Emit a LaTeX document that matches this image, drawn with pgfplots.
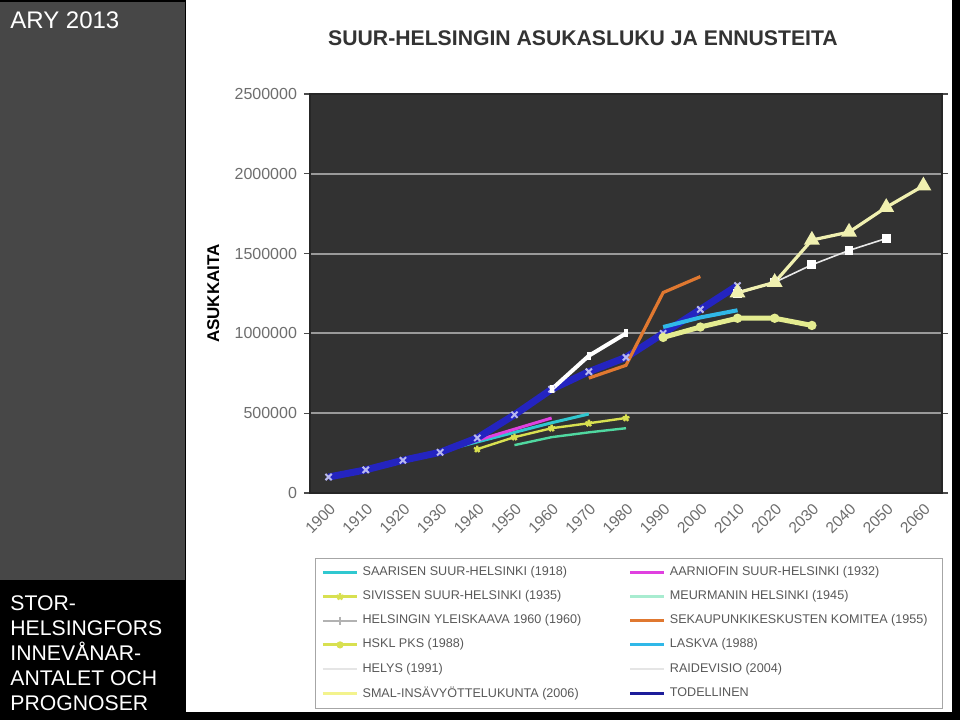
\documentclass[border=0pt]{standalone}
\usepackage{pgfplots}
\pgfplotsset{compat=1.18}
\usepackage{fontspec}
\setmainfont{Liberation Sans}
\definecolor{panel}{HTML}{474747}
\definecolor{plotbg}{HTML}{323232}
\definecolor{gridc}{HTML}{9A9A9A}
\definecolor{ticklab}{HTML}{6E6E6E}
\definecolor{navyL}{HTML}{2424C0}
\definecolor{lav}{HTML}{B8B8F0}
\definecolor{magentaL}{HTML}{E040E0}
\definecolor{saar}{HTML}{30C8D0}
\definecolor{sivis}{HTML}{D8E050}
\definecolor{mood}{HTML}{50D8A0}
\definecolor{orangeL}{HTML}{E07830}
\definecolor{hskl}{HTML}{E4EC90}
\definecolor{lask}{HTML}{30B8E8}
\definecolor{smal}{HTML}{F0F0B0}
\definecolor{helys}{HTML}{E8E8E8}
\begin{document}
\begin{tikzpicture}
\fill[black] (0pt,0pt) rectangle (480pt,360pt);
\fill[panel] (0pt,70pt) rectangle (92.5pt,359pt);
\fill[white] (93pt,4pt) rectangle (476pt,360pt);
\node[anchor=base west,inner sep=0pt,text=white,font=\fontsize{12}{14}\selectfont] at (5pt,346pt) {ARY 2013};
\node[anchor=base west,inner sep=0pt,text=white,font=\fontsize{10.6}{12}\selectfont] at (5pt,55pt) {STOR-};
\node[anchor=base west,inner sep=0pt,text=white,font=\fontsize{10.6}{12}\selectfont] at (5pt,42.5pt) {HELSINGFORS};
\node[anchor=base west,inner sep=0pt,text=white,font=\fontsize{10.6}{12}\selectfont] at (5pt,30pt) {INNEVÅNAR-};
\node[anchor=base west,inner sep=0pt,text=white,font=\fontsize{10.6}{12}\selectfont] at (5pt,17.5pt) {ANTALET OCH};
\node[anchor=base west,inner sep=0pt,text=white,font=\fontsize{10.6}{12}\selectfont] at (5pt,5pt) {PROGNOSER};
\node[anchor=base,inner sep=0pt,text=black!80,font=\bfseries\fontsize{10.6}{12}\selectfont] at (291.5pt,337.5pt) {SUUR-HELSINGIN ASUKASLUKU JA ENNUSTEITA};
\begin{axis}[
  at={(155pt,113.5pt)}, anchor=south west,
  scale only axis, width=316pt, height=199.5pt,
  xmin=-0.5, xmax=16.5, ymin=0, ymax=2500000,
  scaled y ticks=false,
  xtick={0,1,...,16},
  xticklabels={1900,1910,1920,1930,1940,1950,1960,1970,1980,1990,2000,2010,2020,2030,2040,2050,2060},
  ytick={0,500000,1000000,1500000,2000000,2500000},
  yticklabels={0,500000,1000000,1500000,2000000,2500000},
  xtick style={draw=none},
  ytick style={draw=black!70, line width=0.6pt},
  tick align=outside, major tick length=3pt,
  ymajorgrids, grid style={draw=gridc, line width=1pt},
  axis background/.style={fill=plotbg},
  axis line style={draw=black!85, line width=1pt},
  ticklabel style={text=ticklab, font=\fontsize{8}{9}\selectfont},
  xticklabel style={rotate=45, anchor=north east, inner sep=1pt, font=\fontsize{7.8}{9}\selectfont},
  ylabel={ASUKKAITA},
  every axis y label/.style={at={(axis description cs:-0.153,0.5)}, rotate=90, anchor=center, font=\bfseries\fontsize{8.5}{10}\selectfont, text=black},
  legend columns=2,
  legend cell align=left,
  legend style={at={(axis description cs:0.008,-0.163)}, anchor=north west, draw=black!35, fill=white, font=\fontsize{6.3}{7}\selectfont, text=black!65, row sep=2pt, /tikz/every even column/.append style={column sep=4pt}},
]
% lower cluster
\addplot[forget plot, mood, line width=1.2pt] coordinates {(5,300000) (6,350000) (7,380000) (8,406000)};
\addplot[forget plot, sivis, line width=1.2pt, mark=star, mark size=1.8pt, mark options={solid, sivis}] coordinates {(4,275000) (5,350000) (6,406000) (7,437000) (8,470000)};
\addplot[forget plot, saar, line width=1.5pt] coordinates {(2,205000) (3,260000) (4,320000) (5,380000) (6,440000) (7,495000)};
\addplot[forget plot, magentaL, line width=1.5pt] coordinates {(3,255000) (4,330000) (5,400000) (6,470000)};
% actual
\addplot[forget plot, navyL, line width=3.5pt, mark=x, mark size=2.2pt, mark options={lav, line width=1pt}] coordinates {(0,100000) (1,145000) (2,205000) (3,255000) (4,345000) (5,490000) (6,650000) (7,760000) (8,850000) (9,1000000) (10,1150000) (11,1300000)};
% later forecasts
\addplot[forget plot, white, line width=2pt, mark=|, mark size=2pt] coordinates {(6,650000) (7,860000) (8,1000000)};
\addplot[forget plot, orangeL, line width=1.6pt] coordinates {(7,720000) (8,800000) (9,1256000) (10,1356000)};
\addplot[forget plot, lask, line width=2pt] coordinates {(9,1040000) (10,1100000) (11,1145000)};
\addplot[forget plot, hskl, line width=2.5pt, mark=*, mark size=1pt] coordinates {(9,975000) (10,1040000) (11,1095000) (12,1095000) (13,1050000)};
\addplot[forget plot, helys, line width=0.8pt, mark=square*, mark size=1.8pt, mark options={white}] coordinates {(11,1250000) (12,1320000) (13,1430000) (14,1520000) (15,1595000)};
\addplot[forget plot, smal, line width=1.6pt, mark=triangle*, mark size=3pt, mark options={smal}] coordinates {(11,1255000) (12,1320000) (13,1585000) (14,1635000) (15,1790000) (16,1925000)};
% legend
\addlegendimage{saar, line width=1.5pt}
\addlegendentry{\makebox[127pt][l]{SAARISEN SUUR-HELSINKI (1918)}}
\addlegendimage{magentaL, line width=1.5pt}
\addlegendentry{\makebox[131pt][l]{AARNIOFIN SUUR-HELSINKI (1932)}}
\addlegendimage{sivis, line width=1.2pt, mark=star, mark size=1.8pt}
\addlegendentry{\makebox[127pt][l]{SIVISSEN SUUR-HELSINKI (1935)}}
\addlegendimage{mood!50!white, line width=1.2pt}
\addlegendentry{\makebox[131pt][l]{MEURMANIN HELSINKI (1945)}}
\addlegendimage{white!70!black, line width=1pt, mark=|, mark size=2pt}
\addlegendentry{\makebox[127pt][l]{HELSINGIN YLEISKAAVA 1960 (1960)}}
\addlegendimage{orangeL, line width=1.6pt}
\addlegendentry{\makebox[131pt][l]{SEKAUPUNKIKESKUSTEN KOMITEA (1955)}}
\addlegendimage{sivis, line width=1.5pt, mark=*, mark size=1pt}
\addlegendentry{\makebox[127pt][l]{HSKL PKS (1988)}}
\addlegendimage{lask, line width=1.5pt}
\addlegendentry{\makebox[131pt][l]{LASKVA (1988)}}
\addlegendimage{black!10, line width=1pt}
\addlegendentry{\makebox[127pt][l]{HELYS (1991)}}
\addlegendimage{black!10, line width=1pt}
\addlegendentry{\makebox[131pt][l]{RAIDEVISIO (2004)}}
\addlegendimage{smal!80!yellow, line width=1.5pt}
\addlegendentry{\makebox[127pt][l]{SMAL-INSÄVYÖTTELUKUNTA (2006)}}
\addlegendimage{navyL!80!black, line width=1.6pt}
\addlegendentry{\makebox[131pt][l]{TODELLINEN}}
\end{axis}
\end{tikzpicture}
\end{document}
